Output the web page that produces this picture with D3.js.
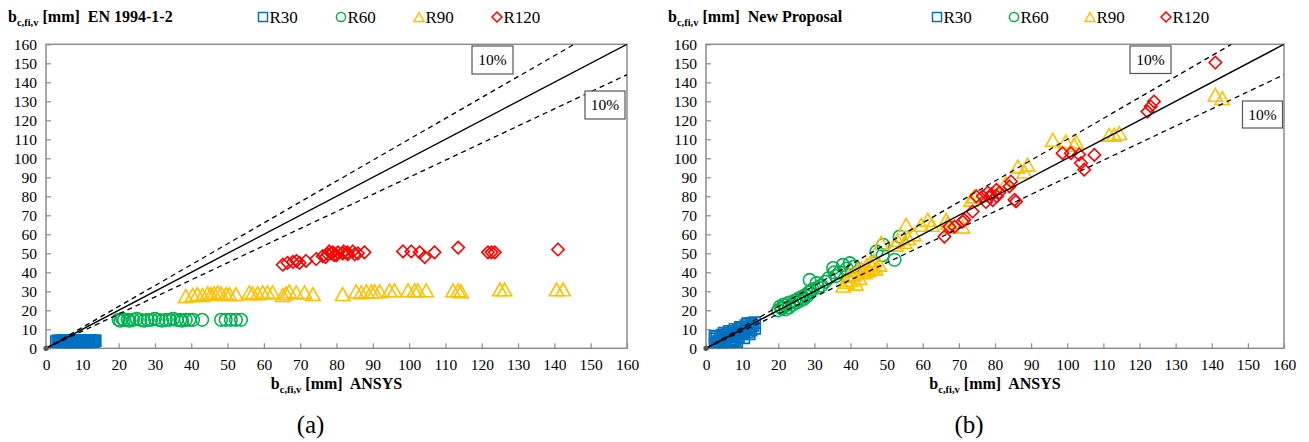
<!DOCTYPE html>
<html><head><meta charset="utf-8">
<script src="https://cdn.jsdelivr.net/npm/d3@7"></script>
<style>
body{margin:0;background:#fff}
svg{display:block}
text{font-family:"Liberation Serif","Times New Roman",serif;fill:#000}
</style>
</head><body>
<svg id="c" width="1309" height="442"></svg>
<script>
// ---------- data ----------
const tickValues = [0,10,20,30,40,50,60,70,80,90,100,110,120,130,140,150,160];
const seriesNames = ["R30","R60","R90","R120"];
const seriesColors = ["#0070C0","#00B050","#FFC000","#FF0000"];
const panelTitles = ["EN 1994-1-2","New Proposal"];
const panelLetters = ["(a)","(b)"];
const bandFactors = [1.1, 0.9];

// panel (a) EN 1994-1-2  [ANSYS, predicted]
const R30_EN = [[2.8,3.5],[3.2,4],[3.6,3],[3.9,3.8],[4,4],[4.3,3.2],[4.5,3.5],[4.8,4.2],[5,4],[5.3,3.6],[5.5,3],[5.8,3.8],[6,4],[6.3,3.3],[6.5,3.5],[6.8,4.1],[7,4],[7.3,3.4],[7.5,3],[7.8,3.9],[8,4],[8.3,3.2],[8.5,3.5],[8.8,4.2],[9,4],[9.3,3.6],[9.5,3],[9.8,3.8],[10,4],[10.3,3.3],[10.5,3.5],[10.8,4.1],[11,4],[11.3,3.4],[11.5,3],[11.8,3.9],[12,3.5],[12.3,4.2],[12.5,4],[12.8,3.3],[13,3.5],[13.3,3.9],[13.6,4]];
const R60_EN = [[20,15],[20.5,14.5],[21,15.5],[21.5,15],[22.5,15],[23,14.5],[24,15],[25,15.5],[26,15],[27,14.5],[28,15],[29,15],[30,15.5],[31,15],[32,14.5],[33,15],[34,15],[35,15.5],[36,15],[37,15],[37.5,14.5],[38.5,15],[39.5,15],[40.5,15],[43,15],[48.2,15],[49.5,15],[50.9,15],[52.3,15],[53.7,15]];
const R90_EN = [[38.5,27.5],[40.4,28],[41.7,28.5],[43.1,28],[44.5,29],[45.4,28.5],[46.3,29],[47.3,29.5],[48.2,29],[49.6,28.5],[50.5,28.5],[52.3,28.5],[56,29.5],[56.9,29],[58.3,29],[59.7,29.5],[61,29.5],[62.4,29.5],[65.2,28],[66.1,29],[67,30],[68.9,29.5],[71.2,29.5],[73.5,28.5],[81.7,28.5],[85.4,30],[86.8,29.5],[88.2,30],[89.6,30],[90.5,30],[91.9,30],[94.6,30.5],[96,30.5],[99.7,30.5],[101.5,30.5],[102.4,30.5],[104.7,30.5],[112.1,30.5],[113.5,30.5],[114.3,30],[125,31],[126.3,31],[140.6,31],[142.4,31]];
const R120_EN = [[65.2,44],[66.5,45],[68,45.5],[69,46],[69.8,45],[71.6,46],[74.4,47],[76.2,48.5],[77,48],[77.6,49.5],[78,51],[78.5,50],[79,50.5],[79.4,49],[80,49],[80.4,50.5],[81.7,50],[82,51],[83,50.5],[83.1,49.5],[84.5,51],[85,49.5],[85.9,50],[87.7,50.5],[98.3,51],[100.6,51],[102.9,50.5],[104.3,48],[107,50.5],[113.5,53],[121.7,50.5],[122.7,50.5],[123.6,50.5],[141,52]];

// panel (b) New Proposal
const R30_NEW = [[2.5,2],[2.5,5],[2.5,6.5],[3,3],[3,6],[3.5,4],[3.5,1.5],[4,2.5],[4,5],[4.5,7],[4.5,1.5],[5,3],[5,5.5],[5,8],[5.5,4],[5.5,2],[6,6],[6,8],[6.5,3.5],[6.5,9],[7,5],[7,7],[7,2.5],[7.5,9],[7.5,4],[8,4.5],[8,6.5],[8,10],[8.5,8],[8.5,3.5],[9,6],[9,10],[9.5,8],[9.5,11],[10,7.5],[10,11],[10.5,9],[10.5,5.5],[11,10],[11,12],[11.5,8.5],[11.5,13],[12,11],[12,7.5],[12.5,13],[12.5,9.5],[13,12],[13.5,10.5],[13.5,13.5]];
const R60_NEW = [[20,20],[20.5,22],[21,21],[21.5,23],[22,20.5],[22,22.5],[23,24],[23,21.5],[24,23],[24.5,25],[25,24],[25.5,26],[26,25],[26.5,27],[27,26],[27.5,28],[28,27.5],[28.5,29.5],[29,30],[29.5,31],[28.7,36],[30.6,34.3],[31,32],[32,33],[33,35],[34,37],[35.2,42.2],[35.5,40],[36,38],[37.9,43.9],[37,40],[39.8,44.8],[39,42],[41,43],[47.2,51],[48.9,49],[49,54.5],[52.2,46.6],[53.6,58.8]];
const R90_NEW = [[38,33],[39,35],[39.5,38],[40,36],[41,39],[41.5,34],[42,41],[42.5,37],[43,42],[44,40],[44.5,44],[45,41],[45.5,45],[46,43],[46.5,46],[47,42],[48,44],[48.5,55.5],[52.5,54.5],[53,57],[55,56],[56,58],[55.4,65],[57.5,60],[59.6,65],[61.4,67.6],[62.5,65],[66.5,67.6],[67,66],[68,64],[71,64],[73.4,78.2],[74.3,79.9],[83,87],[86.3,95.7],[88.1,93],[89,96.6],[96,109.7],[99.6,108.8],[102.4,108.8],[101.9,107.1],[111.6,112.4],[113,112.4],[114.4,113.3],[141,133.4],[142.9,131.7]];
const R120_NEW = [[66,58.8],[67.4,64],[68.8,64],[71,66.7],[71.5,67.6],[73.8,72],[74.8,80],[76.6,80],[77.5,77],[78,82],[78.5,79.5],[79,81],[79.4,78],[80.4,83.4],[80.5,80],[81.2,82],[84.4,87.8],[84,85.2],[85.4,78.2],[85.8,77.3],[98.7,102.7],[101,102.7],[103.3,102],[103.8,97.5],[104.7,94],[107.5,101.8],[122.2,124.6],[123.1,127.3],[124,129.9],[141,150.4]];

const panelData = [[R30_EN,R60_EN,R90_EN,R120_EN],[R30_NEW,R60_NEW,R90_NEW,R120_NEW]];

// ---------- layout ----------
const svg = d3.select("#c");
const panels = [
  {x0:46, x1:627, y0:348.3, y1:44.3, ox:0},
  {x0:706, x1:1284, y0:348.3, y1:44.3, ox:660}
];
const legendX = [[263,341,419,497],[937,1014,1090,1166]];
const serif = '"Liberation Serif","Times New Roman",serif';

function markerPath(i){
  if(i===0){const s=5.5; return `M${-s},${-s}H${s}V${s}H${-s}Z`;}
  if(i===1){const r=6.3; return `M${r},0A${r},${r} 0 1,1 ${-r},0A${r},${r} 0 1,1 ${r},0Z`;}
  if(i===2){const w=7.2,h=6.4; return `M0,${-h}L${w},${h}L${-w},${h}Z`;}
  const d=6.2; return `M0,${-d}L${d},0L0,${d}L${-d},0Z`;
}
function legendPath(i){
  if(i===0){const s=4.5; return `M${-s},${-s}H${s}V${s}H${-s}Z`;}
  if(i===1){const r=4.6; return `M${r},0A${r},${r} 0 1,1 ${-r},0A${r},${r} 0 1,1 ${r},0Z`;}
  if(i===2){const w=5,h=4.5; return `M0,${-h}L${w},${h}L${-w},${h}Z`;}
  const d=5; return `M0,${-d}L${d},0L0,${d}L${-d},0Z`;
}

function subLabel(g, x, y, rest, anchor){
  const t = g.append("text").attr("x",x).attr("y",y).attr("font-weight","bold")
    .attr("font-size",16).attr("text-anchor",anchor||"start").style("white-space","pre");
  t.append("tspan").text("b");
  t.append("tspan").attr("font-size",10.5).attr("dy",4).text("c,fi,v");
  t.append("tspan").attr("dy",-4).text(" [mm]  " + rest);
  return t;
}

panels.forEach((p,pi)=>{
  const g = svg.append("g");
  const x = d3.scaleLinear().domain([0,160]).range([p.x0,p.x1]);
  const y = d3.scaleLinear().domain([0,160]).range([p.y0,p.y1]);

  const clipId = "clip"+pi;
  g.append("clipPath").attr("id",clipId).append("rect")
    .attr("x",p.x0).attr("y",p.y1).attr("width",p.x1-p.x0).attr("height",p.y0-p.y1);

  const xa = g.append("g").attr("transform",`translate(0,${p.y0})`)
    .call(d3.axisBottom(x).tickValues(tickValues).tickSizeInner(-5).tickSizeOuter(0).tickPadding(11));
  const ya = g.append("g").attr("transform",`translate(${p.x0},0)`)
    .call(d3.axisLeft(y).tickValues(tickValues).tickSizeInner(-5).tickSizeOuter(0).tickPadding(9));
  [xa,ya].forEach(a=>{
    a.attr("font-family",serif);
    a.select(".domain").remove();
    a.selectAll(".tick line").attr("stroke","#8c8c8c").attr("stroke-width",1.2);
    a.selectAll(".tick text").attr("font-family",serif).attr("font-size",15.5).attr("fill","#000");
  });
  xa.selectAll(".tick text").attr("dy","0.71em");

  g.append("rect").attr("x",p.x0).attr("y",p.y1).attr("width",p.x1-p.x0).attr("height",p.y0-p.y1)
    .attr("fill","none").attr("stroke","#8c8c8c").attr("stroke-width",1.5);

  const mg = g.append("g").attr("clip-path",`url(#${clipId})`);
  panelData[pi].forEach((arr,si)=>{
    mg.append("g").selectAll("path").data(arr).join("path")
      .attr("d",markerPath(si))
      .attr("transform",d=>`translate(${x(d[0])},${y(d[1])})`)
      .attr("fill","none").attr("stroke",seriesColors[si]).attr("stroke-width",1.6);
  });

  const lg = g.append("g").attr("clip-path",`url(#${clipId})`);
  lg.append("line").attr("x1",x(0)).attr("y1",y(0)).attr("x2",x(160)).attr("y2",y(160))
    .attr("stroke","#000").attr("stroke-width",1.4);
  bandFactors.forEach(f=>{
    const xe = Math.min(160, 160/f);
    lg.append("line").attr("x1",x(0)).attr("y1",y(0)).attr("x2",x(xe)).attr("y2",y(xe*f))
      .attr("stroke","#000").attr("stroke-width",1.3).attr("stroke-dasharray","5,4");
  });
  g.append("circle").attr("cx",x(0)).attr("cy",y(0)).attr("r",2.6).attr("fill","#555");

  const boxes = pi===0 ? [[472,46,41,28],[585,91,40,28]] : [[1130,46,41,27.5],[1242.5,101,40,27]];
  boxes.forEach(b=>{
    g.append("rect").attr("x",b[0]).attr("y",b[1]).attr("width",b[2]).attr("height",b[3])
      .attr("fill","#fff").attr("stroke","#555").attr("stroke-width",1.2);
    g.append("text").attr("x",b[0]+b[2]/2).attr("y",b[1]+b[3]/2+5).attr("text-anchor","middle")
      .attr("font-size",15.5).text("10%");
  });

  subLabel(g, p.ox+8, 22, panelTitles[pi]);
  seriesNames.forEach((n,si)=>{
    const lx = legendX[pi][si];
    g.append("path").attr("d",legendPath(si)).attr("transform",`translate(${lx},17)`)
      .attr("fill","none").attr("stroke",seriesColors[si]).attr("stroke-width",1.5);
    g.append("text").attr("x",lx+6.5).attr("y",22.5).attr("font-size",17).text(n);
  });
  subLabel(g, (p.x0+p.x1)/2, 389, "ANSYS", "middle");
  g.append("text").attr("x",(p.x0+p.x1)/2-26).attr("y",433).attr("text-anchor","middle")
    .attr("font-size",25).text(panelLetters[pi]);
});
</script>
</body></html>
